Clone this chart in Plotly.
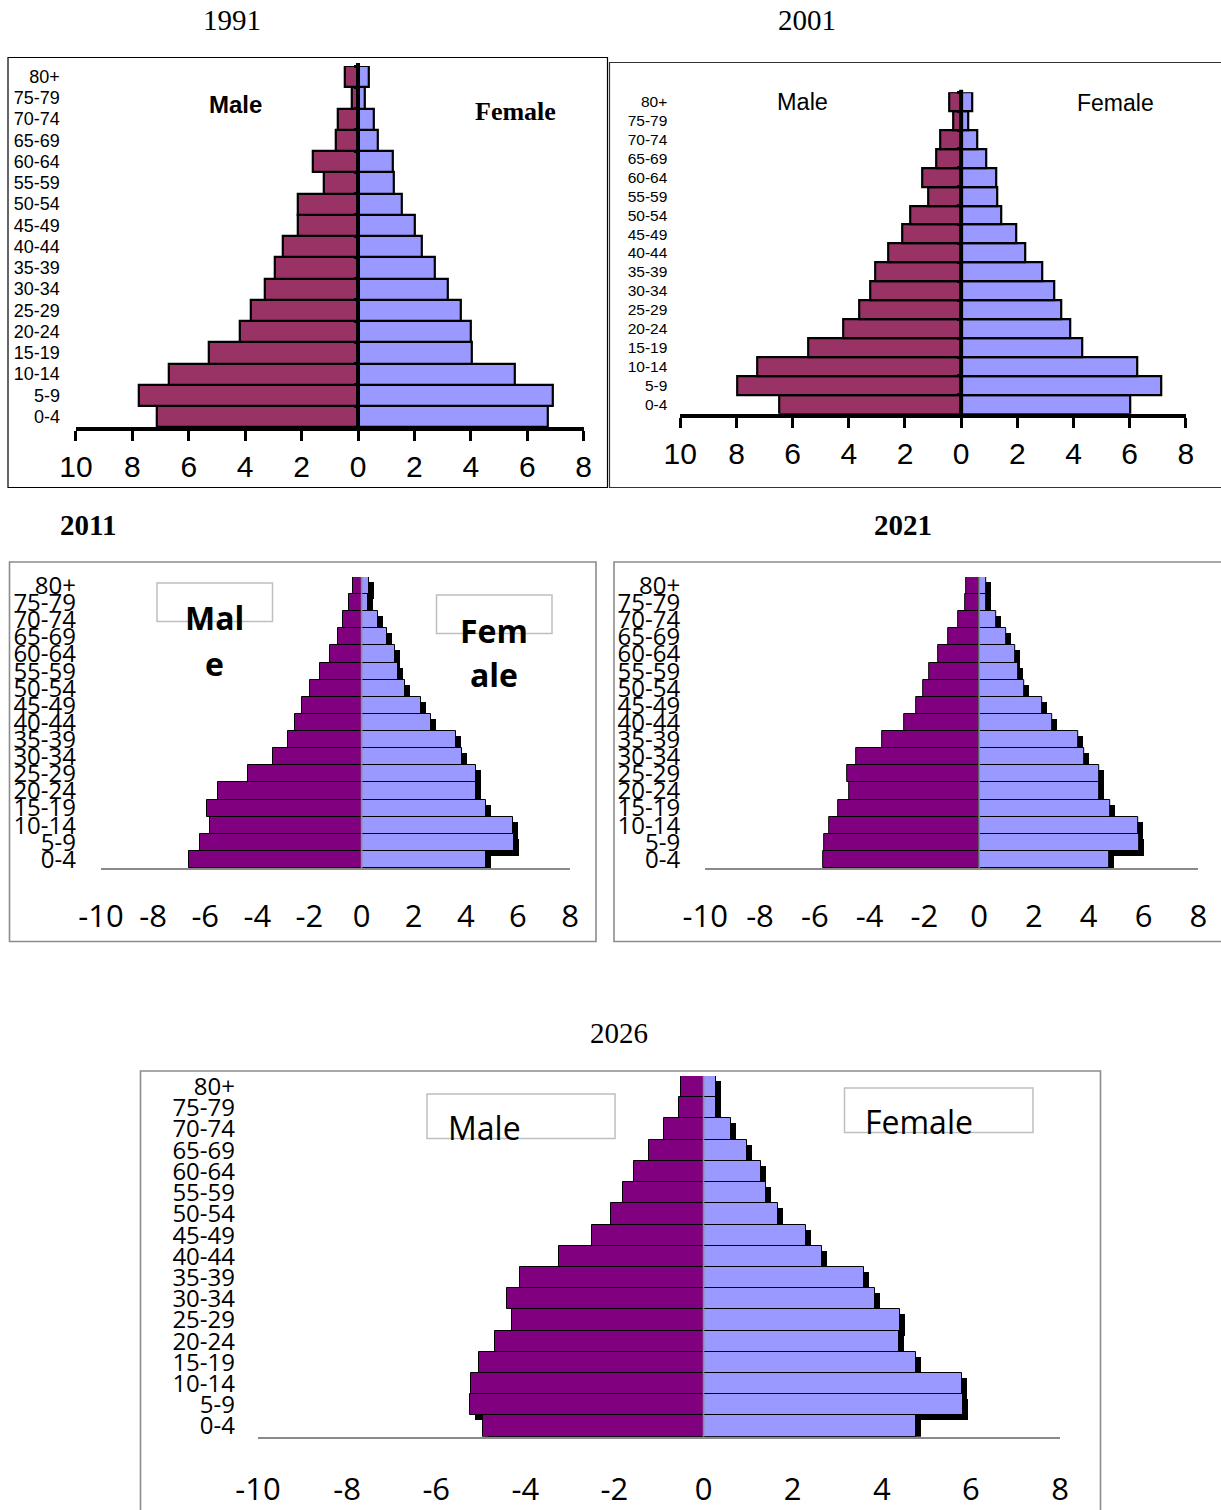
import plotly.graph_objects as go

W, H = 1221, 1510

# Age bands, youngest first (bottom of each pyramid)
age_groups = ["0-4", "5-9", "10-14", "15-19", "20-24", "25-29", "30-34", "35-39",
              "40-44", "45-49", "50-54", "55-59", "60-64", "65-69", "70-74", "75-79", "80+"]

# Share of total population (%), ordered as age_groups
male_1991 = [7.14, 7.75, 6.69, 5.30, 4.19, 3.78, 3.29, 2.96, 2.68, 2.14, 2.14, 1.20, 1.59, 0.77, 0.73, 0.22, 0.47]
female_1991 = [6.74, 6.90, 5.57, 4.04, 4.01, 3.63, 3.20, 2.73, 2.26, 2.01, 1.57, 1.26, 1.23, 0.69, 0.55, 0.23, 0.40]

male_2001 = [6.49, 7.97, 7.26, 5.43, 4.21, 3.61, 3.22, 3.06, 2.60, 2.08, 1.81, 1.18, 1.38, 0.88, 0.75, 0.29, 0.42]
female_2001 = [6.04, 7.12, 6.26, 4.30, 3.87, 3.55, 3.32, 2.88, 2.28, 1.95, 1.42, 1.29, 1.24, 0.88, 0.58, 0.26, 0.38]

male_2011 = [6.64, 6.19, 5.81, 5.94, 5.51, 4.34, 3.39, 2.84, 2.55, 2.30, 1.99, 1.59, 1.21, 0.92, 0.71, 0.49, 0.33]
female_2011 = [4.76, 5.85, 5.81, 4.77, 4.39, 4.41, 3.85, 3.61, 2.65, 2.28, 1.66, 1.39, 1.29, 0.96, 0.62, 0.25, 0.27]

male_2021 = [5.70, 5.64, 5.47, 5.14, 4.73, 4.81, 4.48, 3.53, 2.75, 2.31, 2.04, 1.81, 1.48, 1.12, 0.76, 0.50, 0.46]
female_2021 = [4.76, 5.84, 5.80, 4.78, 4.39, 4.40, 3.85, 3.60, 2.67, 2.30, 1.66, 1.41, 1.31, 0.98, 0.63, 0.24, 0.26]

male_2026 = [4.95, 5.25, 5.22, 5.05, 4.67, 4.31, 4.42, 4.11, 3.24, 2.51, 2.08, 1.81, 1.56, 1.23, 0.88, 0.56, 0.51]
female_2026 = [4.77, 5.82, 5.80, 4.77, 4.38, 4.41, 3.85, 3.61, 2.65, 2.30, 1.66, 1.40, 1.29, 0.97, 0.62, 0.27, 0.27]

x_ticks = [-10, -8, -6, -4, -2, 0, 2, 4, 6, 8]

SANS_A = "Liberation Sans, Arial, sans-serif"
SERIF = "Liberation Serif, Times New Roman, serif"
SANS_M = "Open Sans, Lato, sans-serif"


def px(x):
    return x / W


def py(y):
    return 1 - y / H


# Panel geometry in page pixels: plot box (left, right) x (top, bottom)
panels = [
    dict(year="1991", male=male_1991, female=female_1991, style="classic",
         xpx=(75.9, 583.7), ypx=(66.0, 427.3), yfont=18, ystand=15, xstand=0),
    dict(year="2001", male=male_2001, female=female_2001, style="classic",
         xpx=(680.3, 1185.8), ypx=(92.2, 413.8), yfont=15.5, ystand=12, xstand=0),
    dict(year="2011", male=male_2011, female=female_2011, style="modern",
         xpx=(101.0, 570.0), ypx=(577.0, 868.0), yfont=24, ystand=24, xstand=20),
    dict(year="2021", male=male_2021, female=female_2021, style="modern",
         xpx=(705.2, 1198.3), ypx=(577.0, 868.0), yfont=24, ystand=24, xstand=20),
    dict(year="2026", male=male_2026, female=female_2026, style="modern",
         xpx=(258.0, 1060.0), ypx=(1076.0, 1436.7), yfont=24, ystand=22, xstand=24),
]

n_groups = len(age_groups)
fig = go.Figure()
shapes = []
layout_axes = {}
extra_axis = len(panels)

for i, p in enumerate(panels, start=1):
    xa = "x" if i == 1 else f"x{i}"
    ya = "y" if i == 1 else f"y{i}"
    classic = p["style"] == "classic"
    male_color = "#993366" if classic else "#800080"
    female_color = "#9999FF"
    outline = 2.2 if classic else 1.0
    neg_male = [-v for v in p["male"]]

    if not classic:
        # drop shadow: same bars nudged right and down by a few pixels
        unit_px = (p["xpx"][1] - p["xpx"][0]) / 18.0
        row_px = (p["ypx"][1] - p["ypx"][0]) / n_groups
        sx = 5.0 / unit_px
        sy = 5.0 / row_px
        for vals in (neg_male, p["female"]):
            fig.add_trace(go.Bar(
                x=vals, y=age_groups, base=sx, orientation="h",
                width=1.0, offset=-0.5 - sy,
                marker=dict(color="black", line=dict(width=0)),
                xaxis=xa, yaxis=ya, showlegend=False, hoverinfo="skip"))

    fig.add_trace(go.Bar(
        x=neg_male, y=age_groups, orientation="h", width=1.0,
        marker=dict(color=male_color, line=dict(color="black", width=outline)),
        xaxis=xa, yaxis=ya, showlegend=False, name="Male"))
    fig.add_trace(go.Bar(
        x=p["female"], y=age_groups, orientation="h", width=1.0,
        marker=dict(color=female_color, line=dict(color="black", width=outline)),
        xaxis=xa, yaxis=ya, showlegend=False, name="Female"))

    xdom = [px(p["xpx"][0]), px(p["xpx"][1])]
    ydom = [py(p["ypx"][1]), py(p["ypx"][0])]

    if classic:
        ticktext = [str(abs(t)) for t in x_ticks]
        xaxis = dict(domain=xdom, anchor=ya, range=[-10, 8], tickmode="array",
                     tickvals=x_ticks, ticktext=ticktext, showgrid=False, zeroline=False,
                     showline=True, linecolor="black", linewidth=4,
                     ticks="outside", ticklen=10, tickwidth=3, tickcolor="black",
                     tickfont=dict(family=SANS_A, size=30, color="black"),
                     ticklabelstandoff=p["xstand"], fixedrange=True, automargin=False)
        yfam = SANS_A
        zero_color, zero_w = "black", 4
    else:
        ticktext = [str(t) for t in x_ticks]
        xaxis = dict(domain=xdom, anchor=ya, range=[-10, 8], tickmode="array",
                     tickvals=x_ticks, ticktext=ticktext, showgrid=False, zeroline=False,
                     showline=True, linecolor="#8a8a8a", linewidth=2, ticks="",
                     tickfont=dict(family=SANS_M, size=31, color="black"),
                     ticklabelstandoff=p["xstand"], fixedrange=True, automargin=False)
        yfam = SANS_M
        zero_color, zero_w = "#8a8a8a", 1.6

    yaxis = dict(domain=ydom, anchor=xa, type="category", categoryorder="array",
                 categoryarray=age_groups, range=[-0.5, n_groups - 0.5],
                 tickmode="array", tickvals=age_groups, ticktext=age_groups,
                 showgrid=False, zeroline=False, showline=False, ticks="",
                 tickfont=dict(family=yfam, size=p["yfont"], color="black"),
                 ticklabelstandoff=p["ystand"], fixedrange=True, automargin=False)

    layout_axes["xaxis" if i == 1 else f"xaxis{i}"] = xaxis
    layout_axes["yaxis" if i == 1 else f"yaxis{i}"] = yaxis

    # vertical line at zero
    shapes.append(dict(type="line", xref=xa, yref=f"{ya} domain", x0=0, x1=0,
                       y0=0, y1=1.008 if classic else 1.0,
                       line=dict(color=zero_color, width=zero_w), layer="above"))

    if classic:
        # small category-boundary ticks on the left of the zero line
        extra_axis += 1
        ya_t = f"y{extra_axis}"
        zero_px = p["xpx"][0] + (p["xpx"][1] - p["xpx"][0]) * 10.0 / 18.0
        layout_axes[f"yaxis{extra_axis}"] = dict(
            domain=ydom, overlaying=ya, anchor="free", position=px(zero_px - 1.5),
            range=[-0.5, n_groups - 0.5], tickmode="array",
            tickvals=[k + 0.5 for k in range(n_groups)],
            ticks="outside", ticklen=3, tickwidth=2.5, tickcolor="black",
            showticklabels=False, showgrid=False, zeroline=False, showline=False,
            fixedrange=True, automargin=False)
        fig.add_trace(go.Scatter(x=[None], y=[None], xaxis=xa, yaxis=ya_t,
                                 mode="markers", showlegend=False, hoverinfo="skip"))

# panel frames
def frame(x0, y0, x1, y1, color, width):
    return dict(type="rect", xref="paper", yref="paper", x0=px(x0), x1=px(x1),
                y0=py(y1), y1=py(y0), line=dict(color=color, width=width),
                fillcolor="rgba(0,0,0,0)", layer="above")

shapes += [
    frame(8, 57.5, 607.5, 487.5, "black", 1.2),
    frame(609.5, 62.5, 1240, 487.5, "#333333", 1.2),
    frame(9.5, 562, 596, 941.5, "#8c8c8c", 1.6),
    frame(614, 562, 1240, 941.5, "#8c8c8c", 1.6),
    frame(140.5, 1071, 1100.5, 1530, "#8c8c8c", 1.6),
    # label boxes
    frame(157, 583, 272.5, 621.5, "#bfbfbf", 1.5),
    frame(436.5, 595, 552, 633.5, "#bfbfbf", 1.5),
    frame(427, 1094, 615, 1138.5, "#bfbfbf", 1.5),
    frame(844.5, 1088, 1033, 1132.5, "#bfbfbf", 1.5),
]


def label(text, x, y, family, size, bold=False):
    t = f"<b>{text}</b>" if bold else text
    return dict(text=t, x=px(x), y=py(y), xref="paper", yref="paper",
                xanchor="center", yanchor="middle", showarrow=False,
                font=dict(family=family, size=size, color="black"))

annotations = [
    label("1991", 232, 20, SERIF, 29),
    label("2001", 807, 20, SERIF, 29),
    label("2011", 88, 525, SERIF, 29, bold=True),
    label("2021", 903, 525, SERIF, 29, bold=True),
    label("2026", 619, 1033, SERIF, 29),
    label("Male", 235, 104, SANS_A, 24, bold=True),
    label("Female", 515, 112, SERIF, 26, bold=True),
    label("Male", 802, 102, SANS_A, 23.5),
    label("Female", 1115, 103, SANS_A, 23),
    label("Mal", 214, 617, SANS_M, 32, bold=True),
    label("e", 214, 663, SANS_M, 32, bold=True),
    label("Fem", 494, 630, SANS_M, 32, bold=True),
    label("ale", 494, 675, SANS_M, 32, bold=True),
    label("Male", 484, 1127, SANS_M, 32),
    label("Female", 919, 1121, SANS_M, 32),
]

fig.update_layout(
    width=W, height=H, autosize=False,
    margin=dict(l=0, r=0, t=0, b=0, pad=0, autoexpand=False),
    paper_bgcolor="white", plot_bgcolor="white",
    barmode="overlay", bargap=0,
    shapes=shapes, annotations=annotations,
    **layout_axes,
)

fig.write_html("out.html", post_script="document.body.style.margin='0';",
               config={"displayModeBar": False})
